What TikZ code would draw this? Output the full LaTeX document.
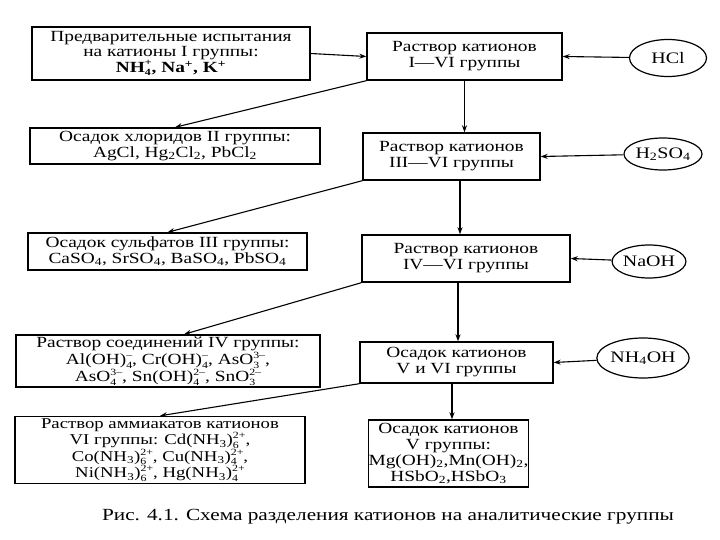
\documentclass[tikz,border=0pt]{standalone}
\usepackage{fontspec}
\setmainfont[FakeStretch=1.25]{Liberation Serif}
\usetikzlibrary{arrows.meta,shapes.geometric}
\newcommand{\ionsz}{\fontsize{9.5}{10}\selectfont}
\newcommand{\subsup}[2]{\rlap{\raisebox{-0.5ex}{\ionsz #1}}\raisebox{0.9ex}{\ionsz #2}}
\begin{document}
\begin{tikzpicture}[x=1pt, y=-1pt,
  box/.style={draw, line width=1.4pt, align=center, inner sep=0pt, font=\fontsize{15.5}{16}\selectfont},
  reag/.style={draw, ellipse, line width=1.2pt, inner sep=0pt, font=\fontsize{16}{16}\selectfont},
  arr/.style={-{Stealth[length=7pt,width=5pt]}, line width=1.1pt}]
\useasboundingbox (0,0) rectangle (720,540);

% left column
\node[box, minimum width=278pt, minimum height=53pt, font=\fontsize{15.5}{15}\selectfont] (pre) at (171,53.5)
  {Предварительные испытания\\на катионы I группы:\\\textbf{NH\subsup{4}{+}, Na\textsuperscript{+}, K\textsuperscript{+}}};
\node[box, minimum width=290pt, minimum height=36pt] (chl) at (175,146)
  {Осадок хлоридов II группы:\\AgCl, Hg\textsubscript{2}Cl\textsubscript{2}, PbCl\textsubscript{2}};
\node[box, minimum width=279pt, minimum height=37pt] (sulf) at (167.5,251.5)
  {Осадок сульфатов III группы:\\CaSO\textsubscript{4}, SrSO\textsubscript{4}, BaSO\textsubscript{4}, PbSO\textsubscript{4}};
\node[box, minimum width=304pt, minimum height=52pt, font=\fontsize{15.5}{17}\selectfont] (amph) at (168,361)
  {Раствор соединений IV группы:\\Al(OH)\subsup{4}{--}, Cr(OH)\subsup{4}{--}, AsO\subsup{3}{3--},\\AsO\subsup{4}{3--}, Sn(OH)\subsup{4}{2--}, SnO\subsup{3}{2--}};
\node[box, minimum width=290pt, minimum height=67pt, font=\fontsize{15}{16.5}\selectfont] (ammin) at (160,450)
  {Раствор аммиакатов катионов\\VI группы: Cd(NH\textsubscript{3})\subsup{6}{2+},\\Co(NH\textsubscript{3})\subsup{6}{2+}, Cu(NH\textsubscript{3})\subsup{4}{2+},\\Ni(NH\textsubscript{3})\subsup{6}{2+}, Hg(NH\textsubscript{3})\subsup{4}{2+}};

% middle column
\node[box, minimum width=195pt, minimum height=47pt] (sol1) at (464.5,56.5)
  {Раствор катионов\\I—VI группы};
\node[box, minimum width=177pt, minimum height=47pt] (sol2) at (451.5,156.5)
  {Раствор катионов\\III—VI группы};
\node[box, minimum width=208pt, minimum height=47pt] (sol3) at (466,258.5)
  {Раствор катионов\\IV—VI группы};
\node[box, minimum width=193pt, minimum height=41pt] (prec56) at (456.5,362.5)
  {Осадок катионов\\V и VI группы};
\node[box, minimum width=157pt, minimum height=67pt] (prec5) at (448.5,453.5)
  {Осадок катионов\\V группы:\\Mg(OH)\textsubscript{2},Mn(OH)\textsubscript{2},\\HSbO\textsubscript{2},HSbO\textsubscript{3}};

% reagents
\node[reag, minimum width=77pt, minimum height=37pt] (hcl) at (668,58) {HCl};
\node[reag, minimum width=78pt, minimum height=32pt] (h2so4) at (663,154) {H\textsubscript{2}SO\textsubscript{4}};
\node[reag, minimum width=54pt, minimum height=33pt] (naoh) at (649,261.5) {NaOH};
\node[reag, minimum width=64pt, minimum height=40pt] (nh4oh) at (643,358) {NH\textsubscript{4}OH};

% caption
\node[font=\fontsize{17}{19}\selectfont] (cap) at (388,517)
  {Рис. 4.1. Схема разделения катионов на аналитические группы};

% connectors
\draw[arr] (pre.east) -- (sol1.west);
\draw[arr] (hcl) -- (sol1.east);
\draw[arr] (h2so4) -- (sol2.east);
\draw[arr] (naoh) -- (sol3.east);
\draw[arr] (nh4oh) -- (prec56.east);

\draw[arr] (sol1.south) -- (sol1.south |- sol2.north);
\draw[arr] ([xshift=8.5pt]sol2.south) -- ([xshift=-6pt]sol3.north);
\draw[arr] ([xshift=-8pt]sol3.south) -- ([xshift=1.5pt]prec56.north);
\draw[arr] ([xshift=-4.5pt]prec56.south) -- ([xshift=3.5pt]prec5.north);

\draw[arr] (sol1.south west) -- (chl.north);
\draw[arr] (sol2.south west) -- (sulf.north);
\draw[arr] (sol3.south west) -- ([xshift=16pt]amph.north);
\draw[arr] (prec56.south west) -- (ammin.north);
\end{tikzpicture}
\end{document}
